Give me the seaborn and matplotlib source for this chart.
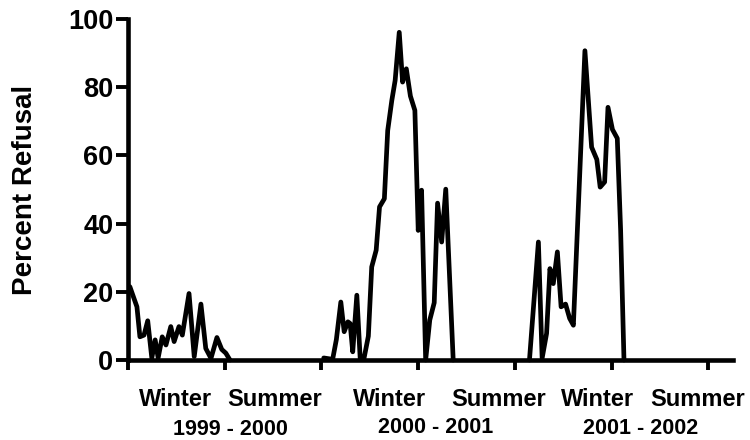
import numpy as np
import pandas as pd
import matplotlib
matplotlib.use("Agg")
import matplotlib.pyplot as plt
import seaborn as sns

# ---- data (week counted from start of the 1999-2000 season) ----
weeks_9900 = [0.5, 2.4, 3.2, 4.3, 5.3, 6.4, 7.3, 8.1, 9.2, 10.2, 11.5, 12.4,
              13.7, 14.6, 16.4, 17.8, 19.6, 20.9, 22.3, 23.9, 25.2, 26.3, 27.4]
refusal_9900 = [21.5, 15.6, 6.8, 7.3, 11.5, 0.6, 5.9, 0.6, 6.8, 4.4, 9.8, 5.4,
                9.8, 7.3, 19.5, 1.0, 16.4, 3.4, 0.5, 6.6, 3.1, 2.0, 0.0]

weeks_0001 = [52.6, 55.0, 56.0, 57.2, 58.1, 59.1, 59.7, 60.4, 61.5, 62.4, 63.4,
              64.6, 65.5, 66.7, 67.6, 68.9, 69.8, 70.9, 71.8, 72.9, 73.8, 74.8,
              75.9, 77.1, 78.0, 78.9, 80.0, 81.1, 82.3, 83.2, 84.3, 85.4, 87.4]
refusal_0001 = [0.6, 0.2, 6.0, 17.0, 8.3, 11.2, 10.7, 2.4, 19.0, 0.5, 0.3,
                7.0, 27.3, 32.2, 44.9, 47.3, 67.3, 76.1, 82.0, 96.1, 81.5, 85.4,
                77.4, 73.2, 38.0, 49.8, 0.0, 11.7, 16.8, 46.0, 34.6, 50.1, 0.0]

weeks_0102 = [107.9, 110.3, 111.3, 112.5, 113.4, 114.3, 115.4, 116.4, 117.6,
              118.7, 119.7, 122.8, 124.6, 126.0, 126.9, 128.1, 129.0, 130.2,
              131.5, 132.4, 133.3]
refusal_0102 = [0.0, 34.6, 0.5, 7.8, 26.8, 22.4, 31.7, 15.6, 16.4,
                12.2, 10.2, 90.7, 62.4, 58.8, 50.7, 52.2, 74.1, 67.6,
                65.0, 38.0, 0.0]

season_ticks = [0, 26, 52, 78, 104, 130, 156]
season_labels = ["Winter", "Summer", "Winter", "Summer", "Winter", "Summer"]
season_label_pos = [12.8, 39.5, 70.4, 99.5, 126.1, 153.2]
year_labels = ["1999 - 2000", "2000 - 2001", "2001 - 2002"]
year_label_pos = [27.6, 82.8, 137.9]
y_ticks = [0, 20, 40, 60, 80, 100]

df = pd.concat([
    pd.DataFrame({"week": weeks_9900, "refusal": refusal_9900, "season": "1999-2000"}),
    pd.DataFrame({"week": weeks_0001, "refusal": refusal_0001, "season": "2000-2001"}),
    pd.DataFrame({"week": weeks_0102, "refusal": refusal_0102, "season": "2001-2002"}),
], ignore_index=True)

sns.set_theme(style="ticks", rc={
    "axes.edgecolor": "black", "xtick.color": "black", "ytick.color": "black",
    "text.color": "black", "axes.labelcolor": "black",
})
plt.rcParams["font.family"] = ["Liberation Sans", "DejaVu Sans"]
plt.rcParams["font.weight"] = "bold"

fig = plt.figure(figsize=(7.5, 4.4), dpi=100)
ax = fig.add_axes([128 / 750, 80 / 440, 605 / 750, 341 / 440])

sns.lineplot(data=df, x="week", y="refusal", units="season", estimator=None,
             sort=False, color="black", linewidth=3.4, ax=ax, legend=False)
for ln in ax.lines:
    ln.set_clip_on(False)
    ln.set_solid_joinstyle("round")
    ln.set_solid_capstyle("round")

ax.set_xlim(0, 162.6)
ax.set_ylim(0, 100)
for s in ["top", "right"]:
    ax.spines[s].set_visible(False)
for s in ["left", "bottom"]:
    ax.spines[s].set_linewidth(3.3)
    ax.spines[s].set_color("black")

ax.set_xticks(season_ticks)
ax.set_xticklabels([])
ax.set_yticks(y_ticks)
ax.set_yticklabels([str(v) for v in y_ticks], fontsize=19.5, fontweight="bold")
ax.tick_params(axis="x", direction="out", length=7.5, width=2.8)
ax.tick_params(axis="y", direction="out", length=9, width=2.8, pad=1.5)
ax.set_xlabel("")
ax.set_ylabel("")

tr = ax.get_xaxis_transform()
for lab, pos in zip(season_labels, season_label_pos):
    ax.text(pos, -0.135, lab, transform=tr, ha="center", va="baseline",
            fontsize=17, fontweight="bold")
# year labels: bottom edge of text box just inside the figure
year_bottom_px = [439.5, 437.5, 438.5]
for lab, pos, yb in zip(year_labels, year_label_pos, year_bottom_px):
    ax.text(pos, (360 - yb) / 341, lab, transform=tr, ha="center", va="bottom",
            fontsize=15.5, fontweight="bold")

fig.text(25 / 750, 1 - 189.5 / 440, "Percent Refusal", rotation=90,
         ha="center", va="center", fontsize=20, fontweight="bold")

fig.savefig("out.png", dpi=100)
